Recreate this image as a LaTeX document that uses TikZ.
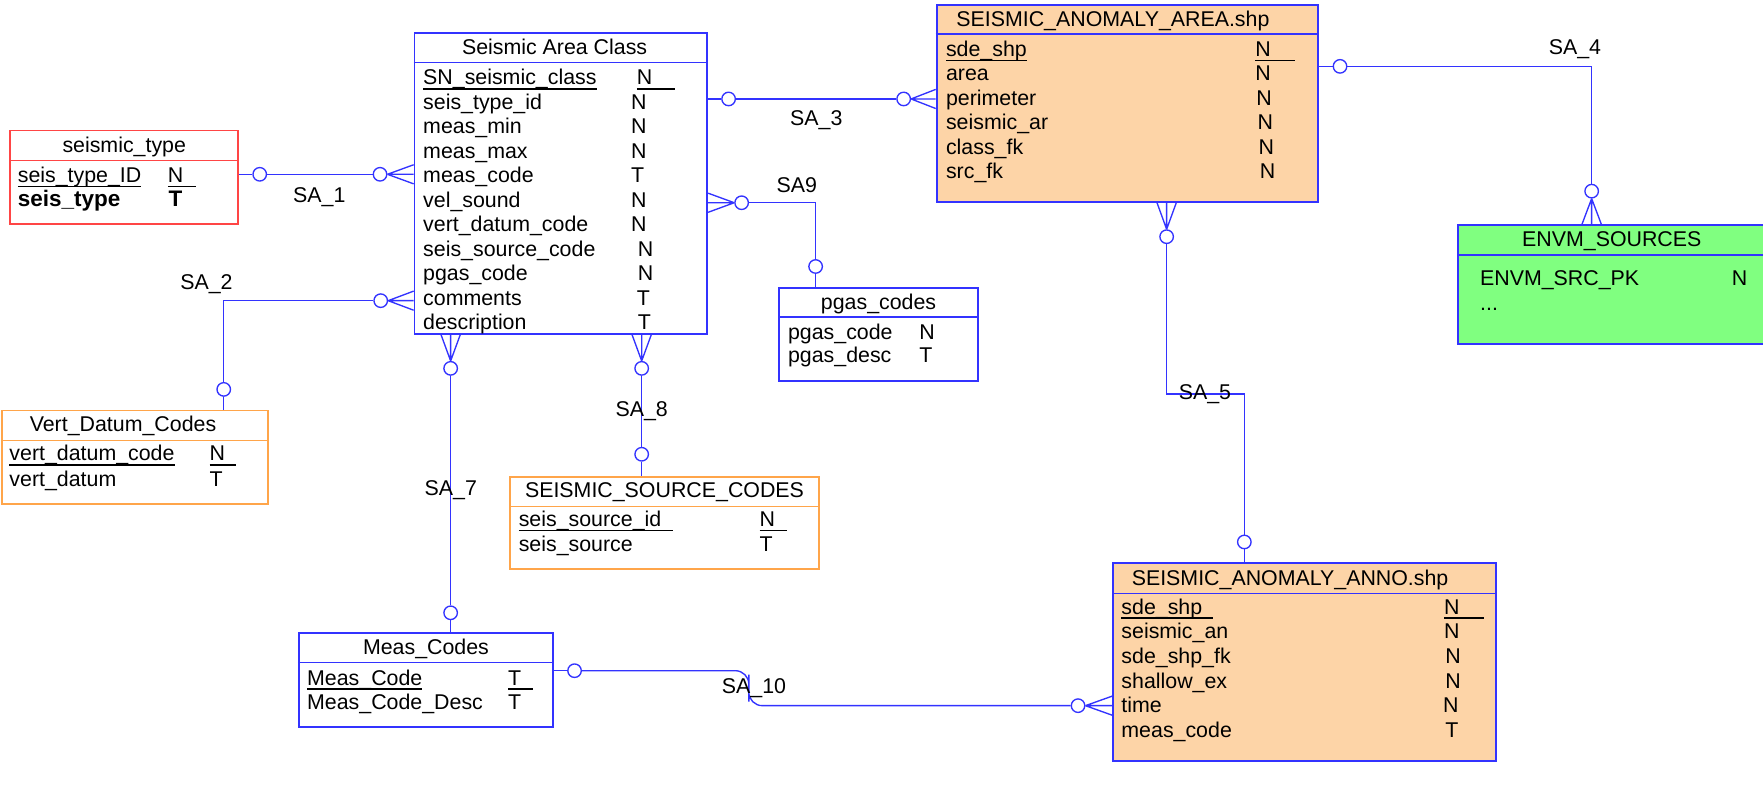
\documentclass[tikz,border=0pt]{standalone}
\usepackage{fontspec}
\setmainfont{Liberation Sans}
\usetikzlibrary{calc,fit}
\definecolor{linkblue}{HTML}{3333FF}
\definecolor{keyred}{HTML}{FF4545}
\definecolor{codeorange}{HTML}{FFA54A}
\definecolor{shpfill}{HTML}{FDD4A7}
\definecolor{envmgreen}{HTML}{80FF80}

% key field: underline, optionally longer than the text
\newcommand{\keyul}[2][0pt]{\setbox0\hbox{#2}\rlap{\rule[-2.2pt]{\dimexpr\wd0+#1\relax}{0.8pt}}\box0}
% crow's foot from a ring anchor to a point on the box edge
\newcommand{\crowfoot}[2]{\draw[rel] (#1) -- (#2) (#1) -- ($(#2)!4.25pt!90:(#1)$) (#1) -- ($(#2)!4.25pt!-90:(#1)$);}

\begin{document}
\begin{tikzpicture}[x=0.5pt,y=-0.5pt,
  font=\fontsize{9.5}{11}\selectfont,
  ent/.style={draw=linkblue,line width=0.8pt,inner sep=0pt},
  sep/.style={line width=0.6pt},
  ttl/.style={inner sep=0pt,anchor=mid},
  fld/.style={inner sep=0pt,anchor=mid west},
  ring/.style={circle,draw=linkblue,fill=white,line width=0.6pt,inner sep=0pt,minimum size=6pt},
  rel/.style={draw=linkblue,line width=0.6pt},
  lbl/.style={inner sep=0pt},
]
\useasboundingbox (0,0) rectangle (1568,720);

% ---- entities
\node[ent,draw=keyred,fit={(9,116) (212,199.5)}] (st) {};
\node[ent,fit={(368.7,29.6) (629,297)}] (sac) {};
\node[ent,fill=shpfill,fit={(833,4.1) (1172,179.7)}] (area) {};
\node[ent,fill=envmgreen,fit={(1297,200) (1570,306)}] (envm) {};
\node[ent,draw=codeorange,fit={(1.6,365) (238,448.5)}] (vdc) {};
\node[ent,draw=codeorange,fit={(453.6,424) (728.4,506.3)}] (ssc) {};
\node[ent,fit={(692.8,255.8) (870,339)}] (pgas) {};
\node[ent,fill=shpfill,fit={(990,501) (1330.8,676.8)}] (anno) {};
\node[ent,fit={(265.7,563.3) (492,646.3)}] (meas) {};

\draw[sep,keyred] ([yshift=-13.9pt]st.north west) -- ([yshift=-13.9pt]st.north east);
\draw[sep,codeorange] ([yshift=-13.9pt]vdc.north west) -- ([yshift=-13.9pt]vdc.north east);
\draw[sep,codeorange] ([yshift=-13.5pt]ssc.north west) -- ([yshift=-13.5pt]ssc.north east);
\foreach \n in {sac,area,pgas,meas}
  \draw[sep,linkblue] ([yshift=-13.4pt]\n.north west) -- ([yshift=-13.4pt]\n.north east);
\foreach \n in {envm,anno}
  \draw[sep,linkblue] ([yshift=-13.8pt]\n.north west) -- ([yshift=-13.8pt]\n.north east);

% ---- titles
\node[ttl] (st-t) at ([yshift=-7.4pt]st.north) {seismic\_type};
\node[ttl] (sac-t) at ([xshift=-2.8pt,yshift=-7pt]sac.north) {Seismic Area Class};
\node[ttl,anchor=mid west] (area-t) at ([xshift=9pt,yshift=-7.6pt]area.north west) {SEISMIC\_ANOMALY\_AREA.shp};
\node[ttl] (envm-t) at ([yshift=-7.5pt]envm.north) {ENVM\_SOURCES};
\node[ttl] (vdc-t) at ([xshift=-5.2pt,yshift=-7.3pt]vdc.north) {Vert\_Datum\_Codes};
\node[ttl] (ssc-t) at ([yshift=-7pt]ssc.north) {SEISMIC\_SOURCE\_CODES};
\node[ttl] (pgas-t) at ([yshift=-7.4pt]pgas.north) {pgas\_codes};
\node[ttl,anchor=mid west] (anno-t) at ([xshift=8.5pt,yshift=-7.4pt]anno.north west) {SEISMIC\_ANOMALY\_ANNO.shp};
\node[ttl] (meas-t) at ([yshift=-7.3pt]meas.north) {Meas\_Codes};

% ---- fields
\node[fld] (st-f0) at (15.5,157) {\keyul{seis\_type\_ID}};
\node[fld] (st-y0) at (149,157) {\keyul[5.4pt]{N}};
\node[fld,font=\bfseries] (st-f1) at (15.5,178) {seis\_type};
\node[fld,font=\bfseries] (st-y1) at (149.6,178) {T};

\node[fld] (sac-f0) at (376,70) {\keyul{SN\_seismic\_class}};
\node[fld] (sac-y0) at (566,70) {\keyul[10.3pt]{N}};
\foreach \i/\f/\x/\t in {1/seis\_type\_id/561/N,2/meas\_min/561/N,3/meas\_max/561/N,
    4/meas\_code/561/T,5/vel\_sound/561/N,6/vert\_datum\_code/561/N,
    7/seis\_source\_code/567/N,8/pgas\_code/567/N,9/comments/566/T,10/description/567/T}
  {\node[fld] (sac-f\i) at (376,70+21.8*\i) {\f}; \node[fld] (sac-y\i) at (\x,70+21.8*\i) {\t};}

\node[fld] (area-f0) at (841,45) {\keyul{sde\_shp}};
\node[fld] (area-y0) at (1116,45) {\keyul[10.7pt]{N}};
\foreach \i/\f/\x in {1/area/1116,2/perimeter/1117,3/seismic\_ar/1118,4/class\_fk/1119,5/src\_fk/1120}
  {\node[fld] (area-f\i) at (841,45+21.7*\i) {\f}; \node[fld] (area-y\i) at (\x,45+21.7*\i) {N};}

\node[fld] (envm-f0) at (1316,249) {ENVM\_SRC\_PK};
\node[fld] (envm-y0) at (1540,249) {N};
\node[fld] (envm-f1) at (1316,271) {...};

\node[fld] (vdc-f0) at (8,404.7) {\keyul{vert\_datum\_code}};
\node[fld] (vdc-y0) at (186,404.7) {\keyul[5pt]{N}};
\node[fld] (vdc-f1) at (8,427) {vert\_datum};
\node[fld] (vdc-y1) at (186,427) {T};

\node[fld] (ssc-f0) at (461,463) {\keyul[5.3pt]{seis\_source\_id}};
\node[fld] (ssc-y0) at (675.3,463) {\keyul[5.3pt]{N}};
\node[fld] (ssc-f1) at (461,485.6) {seis\_source};
\node[fld] (ssc-y1) at (675.3,485.6) {T};

\node[fld] (pgas-f0) at (700.5,296.5) {pgas\_code};
\node[fld] (pgas-y0) at (817.3,296.5) {N};
\node[fld] (pgas-f1) at (700.5,317.2) {pgas\_desc};
\node[fld] (pgas-y1) at (817.3,317.2) {T};

\node[fld] (anno-f0) at (997,541) {\keyul[5pt]{sde\_shp}};
\node[fld] (anno-y0) at (1284,541) {\keyul[10.7pt]{N}};
\foreach \i/\f/\x/\t in {1/seismic\_an/1284/N,2/sde\_shp\_fk/1285/N,3/shallow\_ex/1285/N,
    4/time/1283/N,5/meas\_code/1285/T}
  {\node[fld] (anno-f\i) at (997,541+21.9*\i) {\f}; \node[fld] (anno-y\i) at (\x,541+21.9*\i) {\t};}

\node[fld] (meas-f0) at (272.8,604) {\keyul{Meas\_Code}};
\node[fld] (meas-y0) at (451.5,604) {\keyul[5.4pt]{T}};
\node[fld] (meas-f1) at (272.8,625.5) {Meas\_Code\_Desc};
\node[fld] (meas-y1) at (451.5,625.5) {T};

% ---- relationships
% SA_1
\node[ring] (r1a) at (231,155) {};
\node[ring] (r1b) at (338,155) {};
\coordinate (e1) at (sac.west |- r1b);
\draw[rel] (st.east |- r1a) -- (r1a) -- (r1b);
\crowfoot{r1b.east}{e1}
\node[lbl] (l1) at (284,175) {SA\_1};

% SA_2
\node[ring] (r2a) at (338.6,267.4) {};
\node[ring] (r2b) at (199,346.3) {};
\coordinate (e2) at (sac.west |- r2a);
\crowfoot{r2a.east}{e2}
\draw[rel] (r2a) -| (r2b);
\draw[rel] (r2b) -- (r2b |- vdc.north);
\node[lbl] (l2) at (183.6,252.6) {SA\_2};

% SA_3
\node[ring] (r3a) at (648,88) {};
\node[ring] (r3b) at (803.7,88) {};
\coordinate (e3) at (area.west |- r3b);
\draw[rel] (sac.east |- r3a) -- (r3a) -- (r3b);
\crowfoot{r3b.east}{e3}
\node[lbl] (l3) at (726,107) {SA\_3};

% SA_4
\node[ring] (r4a) at (1191.8,59) {};
\node[ring] (r4b) at (1415.6,170) {};
\coordinate (e4) at (r4b |- envm.north);
\draw[rel] (area.east |- r4a) -- (r4a) -| (r4b);
\crowfoot{r4b.south}{e4}
\node[lbl] (l4) at (1400.7,43.6) {SA\_4};

% SA_5
\node[ring] (r5a) at (1037.6,210.5) {};
\node[ring] (r5b) at (1106.7,482) {};
\coordinate (e5) at (r5a |- area.south);
\coordinate (k5) at (1037.6,350.5);
\crowfoot{r5a.north}{e5}
\draw[rel] (r5a) -- (k5) -| (r5b);
\draw[rel] (r5b) -- (r5b |- anno.north);
\node[lbl] (l5) at (1071.7,350.6) {SA\_5};

% SA_7
\node[ring] (r7a) at (400.8,327.6) {};
\node[ring] (r7b) at (400.8,545) {};
\coordinate (e7) at (r7a |- sac.south);
\crowfoot{r7a.north}{e7}
\draw[rel] (r7a) -- (r7b) -- (r7b |- meas.north);
\node[lbl] (l7) at (401,436) {SA\_7};

% SA_8
\node[ring] (r8a) at (570.7,327.6) {};
\node[ring] (r8b) at (570.7,404) {};
\coordinate (e8) at (r8a |- sac.south);
\crowfoot{r8a.north}{e8}
\draw[rel] (r8a) -- (r8b) -- (r8b |- ssc.north);
\node[lbl] (l8) at (570.7,366) {SA\_8};

% SA9
\node[ring] (r9a) at (659.6,180.3) {};
\node[ring] (r9b) at (725.4,237) {};
\coordinate (e9) at (sac.east |- r9a);
\crowfoot{r9a.west}{e9}
\draw[rel] (r9a) -| (r9b);
\draw[rel] (r9b) -- (r9b |- pgas.north);
\node[lbl] (l9) at (708.7,164.5) {SA9};

% SA_10
\node[ring] (r10a) at (511,596.5) {};
\node[ring] (r10b) at (958.8,627.6) {};
\coordinate (k10) at (666,612);
\coordinate (e10) at (anno.west |- r10b);
\draw[rel] (meas.east |- r10a) -- (r10a);
\draw[rel,rounded corners=6pt] (r10a) -| (k10) |- (r10b);
\crowfoot{r10b.east}{e10}
\node[lbl] (l10) at (670.6,612) {SA\_10};
\end{tikzpicture}
\end{document}
